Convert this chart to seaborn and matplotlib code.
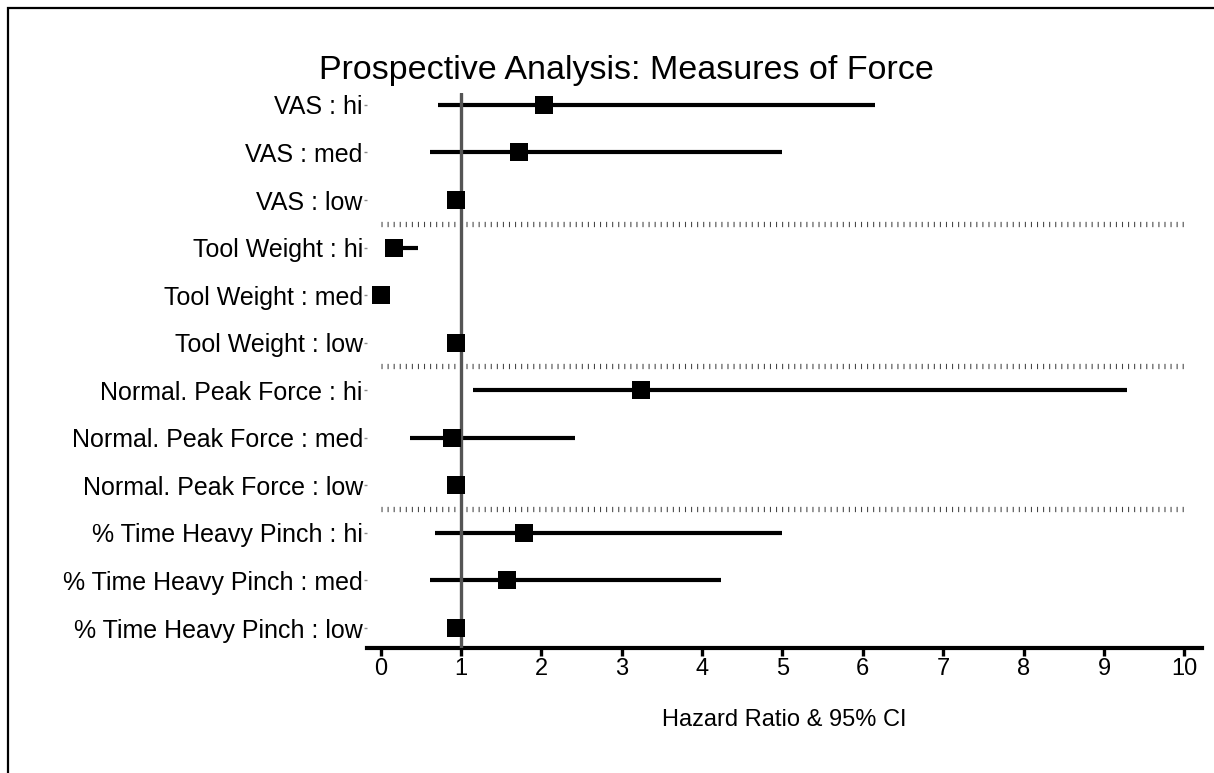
import matplotlib
matplotlib.use("Agg")
import matplotlib.pyplot as plt
import matplotlib.patches as mpatches
import numpy as np
import pandas as pd
import seaborn as sns

# Forest plot data: hazard ratios with 95% confidence limits
labels = [
    "VAS : hi", "VAS : med", "VAS : low",
    "Tool Weight : hi", "Tool Weight : med", "Tool Weight : low",
    "Normal. Peak Force : hi", "Normal. Peak Force : med", "Normal. Peak Force : low",
    "% Time Heavy Pinch : hi", "% Time Heavy Pinch : med", "% Time Heavy Pinch : low",
]
hazard_ratio = [2.03, 1.72, 0.94, 0.16, 0.01, 0.94, 3.24, 0.89, 0.94, 1.78, 1.57, 0.94]
ci_lower = [0.71, 0.62, np.nan, 0.08, 0.00, np.nan, 1.15, 0.37, np.nan, 0.68, 0.62, np.nan]
ci_upper = [6.15, 5.00, np.nan, 0.46, 0.12, np.nan, 9.29, 2.42, np.nan, 5.00, 4.23, np.nan]
group_breaks = [2.5, 5.5, 8.5]
x_ticks = list(range(0, 11))

df = pd.DataFrame({
    "label": labels,
    "hr": hazard_ratio,
    "lo": ci_lower,
    "hi": ci_upper,
})
df["pos"] = np.arange(len(df))

sns.set_theme(style="white")
plt.rcParams["font.family"] = ["Liberation Sans", "DejaVu Sans"]

W, H = 1214, 773
fig = plt.figure(figsize=(W / 100, H / 100), dpi=100)
ax = fig.add_axes([367 / W, 1 - 648 / H, (1202 - 367) / W, (648 - 93) / H])

# confidence intervals
ax.hlines(df["pos"], df["lo"], df["hi"], color="black", linewidth=3.0, zorder=2)

# reference line at HR = 1
ax.axvline(1, color="#555555", linewidth=2.4, zorder=3)

# separators between measure groups
for yb in group_breaks:
    ax.hlines(yb, 0, 10, color="#444444", linewidth=3.8,
              linestyles=[(0, (0.2, 0.95))], zorder=1)

# point estimates
sns.scatterplot(data=df, x="hr", y="pos", marker="s", s=150, color="black",
                edgecolor="black", linewidth=0, zorder=4, ax=ax, legend=False)

ax.set_xlim(-0.17, 10.22)
ax.set_ylim(11.42, -0.25)
ax.set_xticks(x_ticks)
ax.set_xticklabels([str(t) for t in x_ticks])
ax.set_yticks(df["pos"])
ax.set_yticklabels(df["label"])

for side in ["top", "right", "left"]:
    ax.spines[side].set_visible(False)
ax.spines["bottom"].set_linewidth(3.0)
ax.spines["bottom"].set_color("black")

ax.tick_params(axis="x", bottom=True, direction="out", length=6, width=2.4,
               color="black", labelsize=17, pad=1, labelcolor="black")
ax.tick_params(axis="y", left=True, direction="out", length=2, width=1,
               color="#888888", labelsize=18, pad=1, labelcolor="black")

ax.set_xlabel("Hazard Ratio & 95% CI", fontsize=17, color="black", labelpad=21)
ax.set_ylabel("")

fig.text(626 / W, 1 - 70 / H, "Prospective Analysis: Measures of Force",
         ha="center", va="center", fontsize=24.5, color="black")

# outer frame
frame = mpatches.Rectangle((8 / W, -0.05), 1.1, 1 - 8 / H + 0.05,
                           transform=fig.transFigure, fill=False,
                           edgecolor="black", linewidth=1.6, clip_on=False)
fig.patches.append(frame)

fig.savefig("out.png", dpi=100, facecolor="white")
